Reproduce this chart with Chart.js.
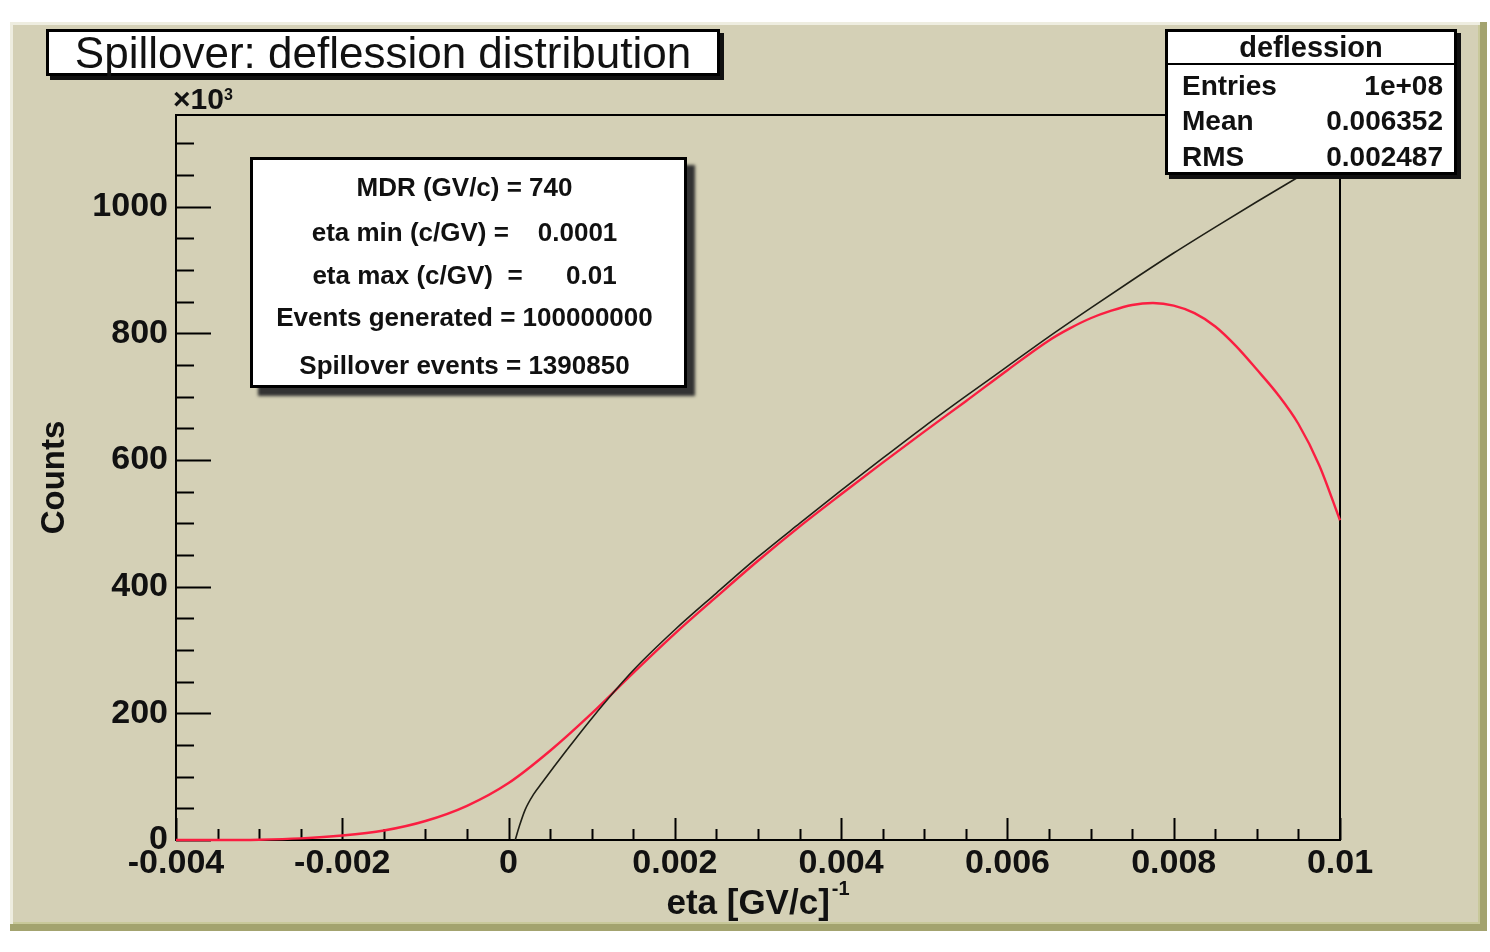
<!DOCTYPE html>
<html>
<head>
<meta charset="utf-8">
<title>Spillover: deflession distribution</title>
<script src="https://cdn.jsdelivr.net/npm/chart.js@4.4.1/dist/chart.umd.min.js"></script>
<style>
  html, body { margin: 0; padding: 0; background: #fff; }
  #wrap { position: relative; width: 1490px; height: 952px; font-family: "Liberation Sans", Arial, Helvetica, sans-serif; color: #111; }
  #wrap canvas { position: absolute; left: 0; top: 0; }
  .pave { position: absolute; background: #fff; border: 3px solid #000; box-sizing: border-box; }
  #titleBox { left: 46px; top: 29px; width: 674px; height: 47px; line-height: 41px; text-align: center; font-size: 44px; box-shadow: 4px 4px 0 #111; }
  #statsBox { left: 1165px; top: 29px; width: 292px; height: 146px; font-weight: bold; font-size: 28px; box-shadow: 4px 4px 0 #111; }
  #statsBox .hdr { height: 31px; line-height: 31px; text-align: center; font-size: 29px; border-bottom: 2px solid #000; }
  #statsBox .row { position: absolute; left: 14px; right: 11px; height: 34px; line-height: 34px; display: flex; justify-content: space-between; }
  #infoBox { left: 250px; top: 157px; width: 437px; height: 231px; box-shadow: 8px 8px 3px #333; font-weight: bold; font-size: 26px; }
  #infoBox .ln { position: absolute; left: -8px; right: 0; text-align: center; white-space: pre; height: 30px; line-height: 30px; }
  #yMult { position: absolute; left: 173px; top: 84px; font-size: 30px; font-weight: bold; line-height: 30px; }
  #yMult sup { font-size: 16px; vertical-align: top; position: relative; top: -4px; }
</style>
</head>
<body>
<div id="wrap">
  <canvas id="chart" width="1490" height="952"></canvas>
  <div class="pave" id="titleBox">Spillover: deflession distribution</div>
  <div class="pave" id="statsBox">
    <div class="hdr">deflession</div>
    <div class="row" style="top:37px"><span>Entries</span><span>1e+08</span></div>
    <div class="row" style="top:72px"><span>Mean</span><span>0.006352</span></div>
    <div class="row" style="top:108px"><span>RMS</span><span>0.002487</span></div>
  </div>
  <div class="pave" id="infoBox">
    <div class="ln" style="top:12px">MDR (GV/c) = 740</div>
    <div class="ln" style="top:57px">eta min (c/GV) =    0.0001</div>
    <div class="ln" style="top:100px">eta max (c/GV)  =      0.01</div>
    <div class="ln" style="top:142px">Events generated = 100000000</div>
    <div class="ln" style="top:190px">Spillover events = 1390850</div>
  </div>
  <div id="yMult">&times;10<sup>3</sup></div>
</div>

<script>
// smeared deflection histogram (counts in units of 10^3)
const etaSmeared = [-0.004, -0.0035, -0.003, -0.0025, -0.002, -0.0015, -0.001, -0.0005, 0,
  0.0005, 0.001, 0.0015, 0.002, 0.0025, 0.003, 0.0035, 0.004, 0.0045, 0.005, 0.0055, 0.006,
  0.0065, 0.00675, 0.007, 0.00725, 0.0075, 0.00775, 0.008, 0.00825, 0.0085, 0.00875,
  0.009, 0.00925, 0.0095, 0.00975, 0.01];
const countsSmeared = [0, 0, 0.5, 2.5, 7, 15, 30, 54, 90,
  141, 200, 264, 326, 384, 441, 495, 546, 596, 645, 693, 742,
  789, 808, 824, 836, 845, 848, 844, 832, 811, 780,
  743, 704, 657, 592, 505];

// generated (true) deflection spectrum, starts at eta min
const etaTrue = [0.00008, 0.00013, 0.0002, 0.0003, 0.0004, 0.0007, 0.001, 0.0015, 0.002, 0.0025,
  0.003, 0.0035, 0.004, 0.0045, 0.005, 0.0055, 0.006, 0.0065, 0.007, 0.0075, 0.008, 0.0085,
  0.009, 0.0095, 0.01];
const countsTrue = [0, 22, 48, 72, 90, 142, 192, 268, 332, 390,
  447, 500, 552, 603, 653, 701, 748, 795, 840, 884, 927, 968,
  1008, 1047, 1086];

const xTickValues = [-0.004, -0.002, 0, 0.002, 0.004, 0.006, 0.008, 0.01];
const xTickLabels = ['-0.004', '-0.002', '0', '0.002', '0.004', '0.006', '0.008', '0.01'];
const yTickValues = [0, 200, 400, 600, 800, 1000];
const yTickLabels = ['0', '200', '400', '600', '800', '1000'];

const FONT = '"Liberation Sans", Arial, Helvetica, sans-serif';

function toPoints(xs, ys) {
  return xs.map((x, i) => ({ x: x, y: ys[i] }));
}

function labelFor(v, values, labels) {
  const i = values.findIndex(t => Math.abs(t - v) < 1e-9);
  return i < 0 ? '' : labels[i];
}

function isMajor(v, values) {
  return values.some(t => Math.abs(t - v) < 1e-9);
}

// canvas background with a raised border
const canvasFrame = {
  id: 'canvasFrame',
  beforeDraw(chart) {
    const ctx = chart.ctx;
    ctx.save();
    ctx.fillStyle = '#ffffff';
    ctx.fillRect(0, 0, chart.width, chart.height);
    ctx.fillStyle = '#d4d0b6';
    ctx.fillRect(10, 22, 1477, 909);
    ctx.fillStyle = '#eeede0';
    ctx.fillRect(10, 22, 1477, 3);
    ctx.fillRect(10, 22, 3, 909);
    ctx.fillStyle = '#a3a36f';
    ctx.fillRect(10, 924, 1477, 7);
    ctx.fillRect(1480, 22, 7, 909);
    ctx.fillStyle = '#c8c89a';
    ctx.fillRect(13, 922, 1467, 2);
    ctx.fillRect(1478, 25, 2, 897);
    ctx.restore();
  }
};

// frame box and inward ticks drawn on the left and bottom axes
const frameTicks = {
  id: 'frameTicks',
  beforeDatasetsDraw(chart) {
    const { ctx, chartArea: a, scales: { x, y } } = chart;
    ctx.save();
    ctx.strokeStyle = '#000';
    ctx.lineWidth = 2;
    ctx.strokeRect(a.left, a.top, a.right - a.left, a.bottom - a.top);
    ctx.beginPath();
    x.ticks.forEach(t => {
      const px = Math.round(x.getPixelForValue(t.value)) + 0.5;
      const len = isMajor(t.value, xTickValues) ? 22 : 11;
      ctx.moveTo(px, a.bottom);
      ctx.lineTo(px, a.bottom - len);
    });
    y.ticks.forEach(t => {
      const py = Math.round(y.getPixelForValue(t.value)) + 0.5;
      const len = isMajor(t.value, yTickValues) ? 35 : 18;
      ctx.moveTo(a.left, py);
      ctx.lineTo(a.left + len, py);
    });
    ctx.stroke();
    ctx.restore();
  }
};

// x axis title with a superscript exponent
const xTitle = {
  id: 'xTitle',
  afterDraw(chart) {
    const { ctx, chartArea: a } = chart;
    const main = 'eta [GV/c]';
    const sup = '-1';
    ctx.save();
    ctx.fillStyle = '#111';
    ctx.textBaseline = 'alphabetic';
    ctx.font = 'bold 20px ' + FONT;
    const supW = ctx.measureText(sup).width;
    ctx.font = 'bold 35px ' + FONT;
    const w = ctx.measureText(main).width;
    const x0 = (a.left + a.right) / 2 - (w + supW + 2) / 2;
    ctx.fillText(main, x0, 914);
    ctx.font = 'bold 20px ' + FONT;
    ctx.fillText(sup, x0 + w + 2, 895);
    ctx.restore();
  }
};

const tickFont = { family: FONT, size: 34, weight: 'bold' };

new Chart(document.getElementById('chart'), {
  type: 'line',
  data: {
    datasets: [
      {
        label: 'generated',
        data: toPoints(etaTrue, countsTrue),
        borderColor: '#1f1f16',
        borderWidth: 1.6,
        pointRadius: 0,
        cubicInterpolationMode: 'monotone',
        fill: false
      },
      {
        label: 'deflession',
        data: toPoints(etaSmeared, countsSmeared),
        borderColor: 'rgb(250, 30, 65)',
        borderWidth: 2.4,
        pointRadius: 0,
        cubicInterpolationMode: 'monotone',
        fill: false,
        clip: 4
      }
    ]
  },
  options: {
    responsive: false,
    animation: false,
    events: [],
    layout: { padding: { left: 0, top: 115, right: 150, bottom: 0 } },
    plugins: {
      legend: { display: false },
      tooltip: { enabled: false },
      title: { display: false }
    },
    scales: {
      x: {
        type: 'linear',
        min: -0.004,
        max: 0.01,
        afterFit: s => { s.height = 112; },
        grid: { display: false, drawTicks: false },
        border: { display: false },
        ticks: {
          stepSize: 0.0005,
          autoSkip: false,
          maxRotation: 0,
          includeBounds: false,
          padding: 3,
          color: '#111',
          font: tickFont,
          callback: v => labelFor(v, xTickValues, xTickLabels)
        }
      },
      y: {
        type: 'linear',
        min: 0,
        max: 1145,
        afterFit: s => { s.width = 176; },
        grid: { display: false, drawTicks: false },
        border: { display: false },
        title: {
          display: true,
          text: 'Counts',
          color: '#111',
          font: { family: FONT, size: 33, weight: 'bold' },
          padding: { top: 35, bottom: 0 }
        },
        ticks: {
          stepSize: 50,
          autoSkip: false,
          includeBounds: false,
          padding: 8,
          color: '#111',
          font: tickFont,
          callback: v => labelFor(v, yTickValues, yTickLabels)
        }
      }
    }
  },
  plugins: [canvasFrame, frameTicks, xTitle]
});
</script>
</body>
</html>
